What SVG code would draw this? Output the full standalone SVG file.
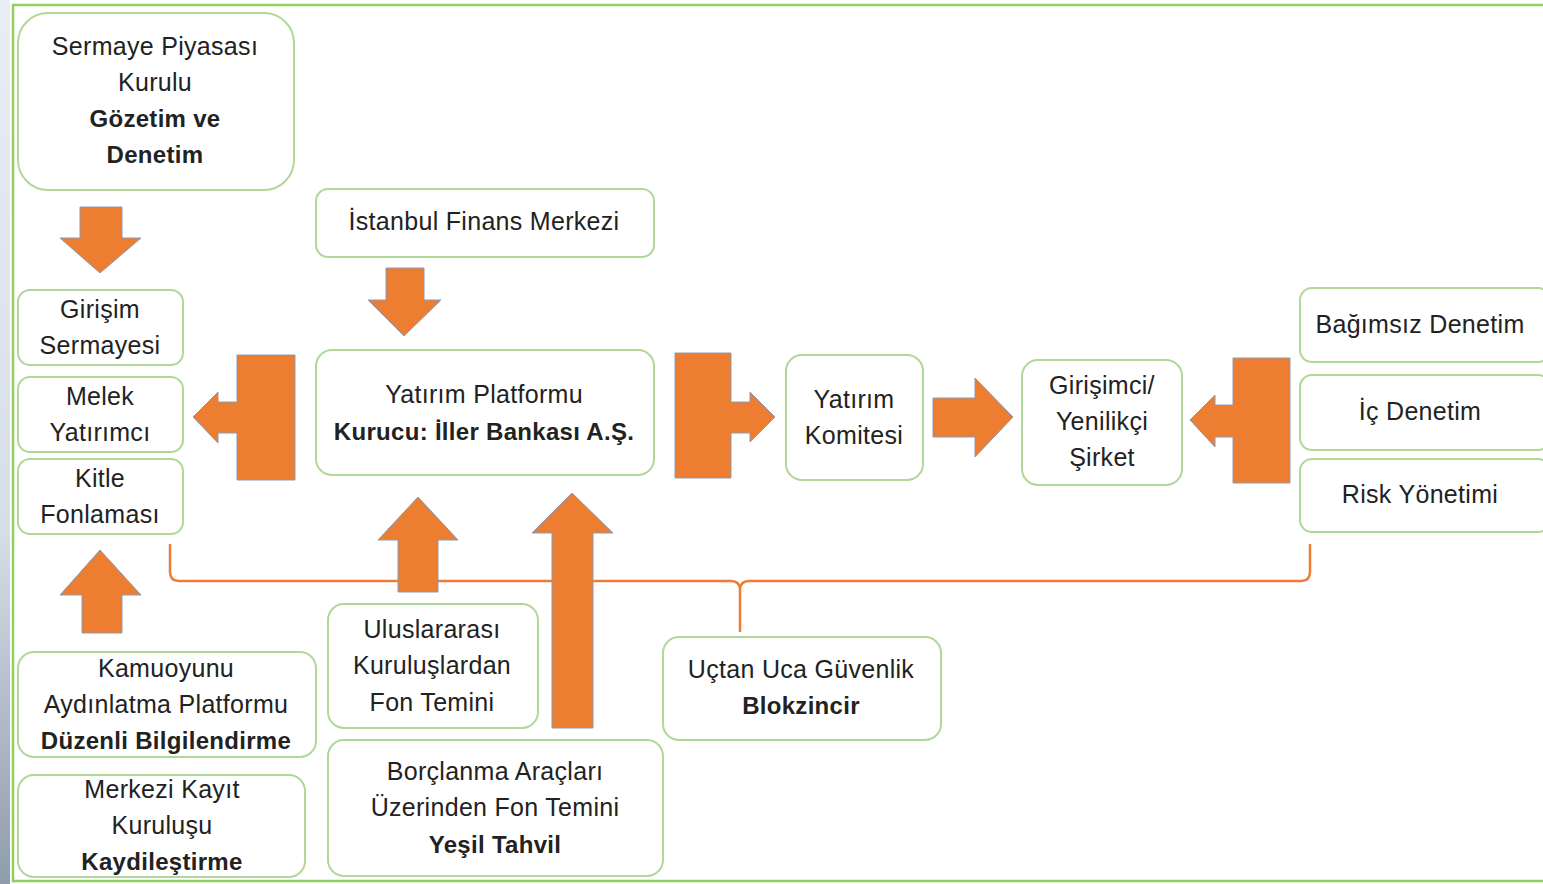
<svg xmlns="http://www.w3.org/2000/svg" width="1543" height="884" viewBox="0 0 1543 884">
<style>
.box{fill:#ffffff;stroke:#b0d898;stroke-width:2}
.t{font-family:"Liberation Sans",Arial,sans-serif;font-size:25px;letter-spacing:0.3px;fill:#222222;text-anchor:middle}
.b{font-weight:bold;font-size:24px}
.arr{fill:#ed7d31;stroke:#8a9cb8;stroke-width:1}
.br{fill:none;stroke:#ed7d31;stroke-width:2.5;stroke-linecap:round;stroke-linejoin:round}
</style>
<defs>
<linearGradient id="side" x1="0" y1="0" x2="0" y2="1">
<stop offset="0" stop-color="#e8eef4"/>
<stop offset="0.6" stop-color="#d6dee8"/>
<stop offset="1" stop-color="#8f9cab"/>
</linearGradient>
</defs>
<rect x="0" y="0" width="1543" height="884" fill="#ffffff"/>
<rect x="0" y="0" width="10" height="884" fill="url(#side)"/>
<rect id="frame" x="13" y="5" width="1540" height="876" fill="none" stroke="#92cf5c" stroke-width="2.5"/>

<g id="connectors">
<path class="br" d="M170,545 V572 Q170,581 179,581 H731 Q740,581 740,590 V631 M740,590 Q740,581 749,581 H1301 Q1310,581 1310,572 V545"/>
<polygon class="arr" points="80,207 122,207 122,238 141,238 100,273 60,238 80,238"/>
<polygon class="arr" points="386,268 424,268 424,300 441,300 404,336 368,300 386,300"/>
<polygon class="arr" points="237,355 295,355 295,480 237,480 237,433 218,433 218,443 193,417 218,392 218,402 237,402"/>
<polygon class="arr" points="675,353 731,353 731,402 750,402 750,392 775,417 750,442 750,433 731,433 731,478 675,478"/>
<polygon class="arr" points="933,398 975,398 975,378 1013,417 975,457 975,437 933,437"/>
<polygon class="arr" points="1233,358 1290,358 1290,483 1233,483 1233,437 1215,437 1215,447 1190,420 1215,395 1215,405 1233,405"/>
<polygon class="arr" points="100,550 141,595 122,595 122,633 82,633 82,595 60,595"/>
<polygon class="arr" points="418,497 458,540 438,540 438,592 398,592 398,540 378,540"/>
<polygon class="arr" points="572,493 613,533 593,533 593,728 552,728 552,533 532,533"/>
</g>

<g id="spk"><rect class="box" x="18" y="13" width="276" height="177" rx="30"/>
<text class="t" x="155" y="55">Sermaye Piyasası</text><text class="t" x="155" y="91">Kurulu</text>
<text class="t b" x="155" y="127">Gözetim ve</text><text class="t b" x="155" y="163">Denetim</text></g>

<g id="ifm"><rect class="box" x="316" y="189" width="338" height="68" rx="12"/>
<text class="t" x="484" y="230">İstanbul Finans Merkezi</text></g>

<g id="girisim"><rect class="box" x="18" y="290" width="165" height="75" rx="12"/>
<text class="t" x="100" y="318">Girişim</text><text class="t" x="100" y="354">Sermayesi</text></g>

<g id="melek"><rect class="box" x="18" y="377" width="165" height="75" rx="12"/>
<text class="t" x="100" y="405">Melek</text><text class="t" x="100" y="441">Yatırımcı</text></g>

<g id="kitle"><rect class="box" x="18" y="459" width="165" height="75" rx="12"/>
<text class="t" x="100" y="487">Kitle</text><text class="t" x="100" y="523">Fonlaması</text></g>

<g id="platform"><rect class="box" x="316" y="350" width="338" height="125" rx="16"/>
<text class="t" x="484" y="403">Yatırım Platformu</text><text class="t b" x="484" y="440">Kurucu: İller Bankası A.Ş.</text></g>

<g id="komite"><rect class="box" x="786" y="355" width="137" height="125" rx="16"/>
<text class="t" x="854" y="408">Yatırım</text><text class="t" x="854" y="444">Komitesi</text></g>

<g id="sirket"><rect class="box" x="1022" y="360" width="160" height="125" rx="16"/>
<text class="t" x="1102" y="394">Girişimci/</text><text class="t" x="1102" y="430">Yenilikçi</text><text class="t" x="1102" y="466">Şirket</text></g>

<g id="bagimsiz"><rect class="box" x="1300" y="288" width="250" height="74" rx="12"/>
<text class="t" x="1420" y="333">Bağımsız Denetim</text></g>

<g id="icdenetim"><rect class="box" x="1300" y="375" width="250" height="75" rx="12"/>
<text class="t" x="1420" y="420">İç Denetim</text></g>

<g id="risk"><rect class="box" x="1300" y="459" width="250" height="73" rx="12"/>
<text class="t" x="1420" y="503">Risk Yönetimi</text></g>

<g id="uluslararasi"><rect class="box" x="328" y="604" width="210" height="124" rx="16"/>
<text class="t" x="432" y="638">Uluslararası</text><text class="t" x="432" y="674">Kuruluşlardan</text><text class="t" x="432" y="711">Fon Temini</text></g>

<g id="blokzincir"><rect class="box" x="663" y="637" width="278" height="103" rx="16"/>
<text class="t" x="801" y="678">Uçtan Uca Güvenlik</text><text class="t b" x="801" y="714">Blokzincir</text></g>

<g id="kap"><rect class="box" x="18" y="652" width="298" height="105" rx="16"/>
<text class="t" x="166" y="677">Kamuoyunu</text><text class="t" x="166" y="713">Aydınlatma Platformu</text><text class="t b" x="166" y="749">Düzenli Bilgilendirme</text></g>

<g id="mkk"><rect class="box" x="18" y="775" width="287" height="102" rx="16"/>
<text class="t" x="162" y="798">Merkezi Kayıt</text><text class="t" x="162" y="834">Kuruluşu</text><text class="t b" x="162" y="870">Kaydileştirme</text></g>

<g id="borclanma"><rect class="box" x="328" y="740" width="335" height="136" rx="16"/>
<text class="t" x="495" y="780">Borçlanma Araçları</text><text class="t" x="495" y="816">Üzerinden Fon Temini</text><text class="t b" x="495" y="853">Yeşil Tahvil</text></g>
</svg>
